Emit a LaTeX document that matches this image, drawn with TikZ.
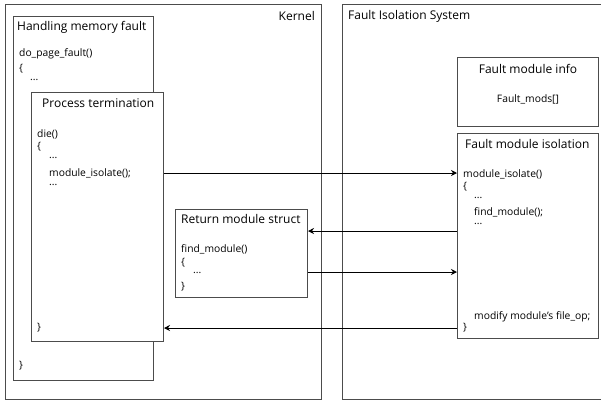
\documentclass[tikz,border=0pt]{standalone}
\usepackage{fontspec}
\setmainfont{Open Sans}
\usetikzlibrary{arrows.meta}
\begin{document}
\begin{tikzpicture}[x=1pt,y=-1pt,
  box/.style={draw=black!70, line width=1pt, rectangle, inner sep=0pt, anchor=north west},
  ttl/.style={font=\fontsize{12}{14}\selectfont, inner sep=0pt},
  code/.style={font=\fontsize{10.3}{12}\selectfont, inner sep=0pt, anchor=west},
  arr/.style={draw=black, line width=0.9pt, -{Stealth[length=6pt,width=6pt]}}]
\useasboundingbox (0,0) rectangle (601,400);
\fill[white] (0,0) rectangle (601,400);

% outer containers
\node[box, minimum width=316pt, minimum height=395pt] (kernel) at (5,4) {};
\node[box, minimum width=262pt, minimum height=395pt] (fis) at (342,4) {};

% kernel side
\node[box, minimum width=140pt, minimum height=364pt] (hmf) at (13,16) {};
\node[box, fill=white, minimum width=132pt, minimum height=249pt] (pt) at (31,92) {};
\node[box, minimum width=132pt, minimum height=88pt] (rms) at (175,209) {};

% fault isolation side
\node[box, minimum width=141pt, minimum height=69pt] (fmi) at (457,57) {};
\node[box, minimum width=141pt, minimum height=205pt] (fiso) at (457,133) {};

% titles
\node[ttl, anchor=east] (tkernel) at (315,16) {Kernel};
\node[ttl, anchor=west] (thmf) at (17,27) {Handling memory fault};
\node[ttl, anchor=west] (tpt) at (42,103) {Process termination};
\node[ttl, anchor=west] (trms) at (181,219) {Return module struct};
\node[ttl, anchor=west] (tfis) at (348,16) {Fault Isolation System};
\node[ttl] (tfmi) at (528,69) {Fault module info};
\node[ttl, anchor=west] (tfiso) at (465,144) {Fault module isolation};

% code in handling memory fault
\node[code] at (19,54) {do\_page\_fault()};
\node[code] at (19,69) {\{};
\node[code] at (30,80) {...};
\node[code] at (19,366) {\}};

% code in process termination
\node[code] at (37,134) {die()};
\node[code] at (37,147) {\{};
\node[code] at (49,158) {...};
\node[code] at (49,173) {module\_isolate();};
\node[code] at (49,185) {...};
\node[code] at (37,328) {\}};

% code in return module struct
\node[code] at (181,249) {find\_module()};
\node[code] at (181,263) {\{};
\node[code] at (193,273) {...};
\node[code] at (181,287) {\}};

% code in fault module info
\node[code, anchor=center] at (528,99) {Fault\_mods[]};

% code in fault module isolation
\node[code] at (463,174) {module\_isolate()};
\node[code] at (463,187) {\{};
\node[code] at (474,198) {...};
\node[code] at (474,212) {find\_module();};
\node[code] at (474,224) {...};
\node[code] at (474,317) {modify module's file\_op;};
\node[code] at (463,328) {\}};

% call levels
\coordinate (y1) at (0,173);
\coordinate (y2) at (0,231);
\coordinate (y3) at (0,272);
\coordinate (y4) at (0,328);

\draw[arr] (pt.east |- y1) -- (fiso.west |- y1);
\draw[arr] (fiso.west |- y2) -- (rms.east |- y2);
\draw[arr] (rms.east |- y3) -- (fiso.west |- y3);
\draw[arr] (fiso.west |- y4) -- (pt.east |- y4);
\end{tikzpicture}
\end{document}
